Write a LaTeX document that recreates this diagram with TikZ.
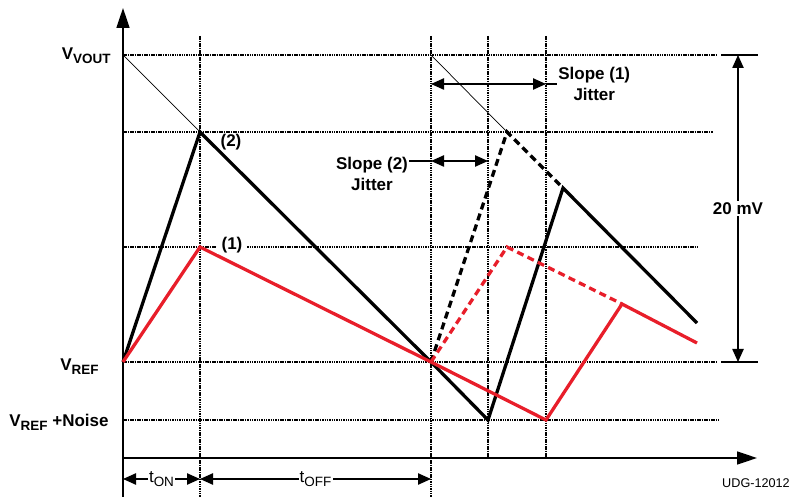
\documentclass[tikz,border=0pt]{standalone}
\usepackage{fontspec}
\setmainfont{Liberation Sans}
\usepackage{tikz}
\usetikzlibrary{arrows.meta,calc,positioning}
\definecolor{rojo}{RGB}{232,30,42}
\tikzset{
  rejilla/.style={line width=1.3pt,dash pattern=on 1.3pt off 0.7pt},
  onda/.style={line width=2.8pt,line join=miter},
  discont/.style={dash pattern=on 6pt off 3.8pt},
  ejes/.style={-{Triangle[length=6mm,width=3.9mm]},line width=1.4pt},
  cota/.style={{Triangle[length=3.9mm,width=3.4mm]}-{Triangle[length=3.9mm,width=3.4mm]},line width=1.1pt},
  etq/.style={font=\fontsize{14.5}{18}\selectfont\bfseries,inner sep=1pt},
  etqn/.style={font=\fontsize{14.5}{18}\selectfont,inner sep=1pt}
}
\newcommand{\subi}[2][-2.8pt]{\raisebox{#1}{\fontsize{11.5}{12}\selectfont #2}}

\begin{document}
\begin{tikzpicture}[x=0.3mm,y=-0.3mm]
\useasboundingbox (0,0) rectangle (792,497);
\coordinate (o) at (123,458);
\coordinate (a0) at (123,362); \coordinate (a1) at (200,132); \coordinate (a2) at (431,362);
\coordinate (a3) at (488,420); \coordinate (a4) at (563,188); \coordinate (a5) at (697,323);
\coordinate (b1) at (507,132); \coordinate (c1) at (507,247);
\coordinate (r1) at (200,247); \coordinate (r3) at (546,420); \coordinate (r4) at (622,304); \coordinate (r5) at (697,343);
\foreach \y/\xf in {55/718,132/713,247/698,362/717,420/719}
  \draw[rejilla] (123,\y) -- (\xf,\y);
\foreach \x/\yf in {200/497,431/497,488/458,546/458}
  \draw[rejilla] (\x,36) -- (\x,\yf);
\draw[ejes] (o) -- (123,8);
\draw[ejes] (o) -- (757,458);
\draw[line width=1.1pt] (o) -- (123,497);
\draw[line width=0.6pt] (123,55) -- (a1);
\draw[line width=0.6pt] (431,55) -- (b1);
\draw[onda] (a0) -- (a1) -- (a2) -- (a3) -- (a4) -- (a5);
\draw[onda,discont] (a2) -- (b1) -- (a4);
\draw[onda,rojo] (a0) -- (r1) -- (a2) -- (r3) -- (r4) -- (r5);
\draw[onda,rojo,discont] (a2) -- (c1) -- (r4);
\node[etq,anchor=base east] (vout) at (112,60) {V\subi{VOUT}};
\node[etq,anchor=base east] (vref) at (100,371) {V\subi{REF}};
\node[etq,anchor=base east] (vnoise) at (110,427) {V\subi{REF} +Noise};
\node[etq] (n2) at (231,142) {(2)};
\node[etq,fill=white,inner xsep=4pt] (n1) at (232,245) {(1)};
\coordinate (j1a) at (431,84); \coordinate (j1b) at (546,84);
\node[etq,align=center,anchor=west] (s1) at (557,84) {Slope (1)\\Jitter};
\draw[cota] (j1a) -- (j1b);
\draw[line width=1.1pt] (j1b) -- (s1.west);
\coordinate (j2a) at (431,161); \coordinate (j2b) at (488,161);
\node[etq,align=center] (s2) at (372,174) {Slope (2)\\Jitter};
\draw[cota] (j2a) -- (j2b);
\draw[line width=1.1pt] (s2.east |- j2a) -- (j2a);
\coordinate (m1) at (738,55); \coordinate (m2) at (738,362);
\draw[line width=1.1pt] (721,55) -- (758,55) (721,362) -- (758,362);
\draw[cota] (m2) -- (m1) node[etq,midway,fill=white] (mv) {20 mV};
\coordinate (t0) at (123,479); \coordinate (t1) at (200,479); \coordinate (t2) at (431,479);
\draw[cota] (t0) -- (t1) node[etqn,midway,fill=white] (ton) {t\subi[-4pt]{ON}};
\draw[cota] (t1) -- (t2) node[etqn,midway,fill=white] (toff) {t\subi[-4pt]{OFF}};
\node[font=\fontsize{10.8}{12}\selectfont] (udg) at (756,483) {UDG-12012};
\end{tikzpicture}
\end{document}
